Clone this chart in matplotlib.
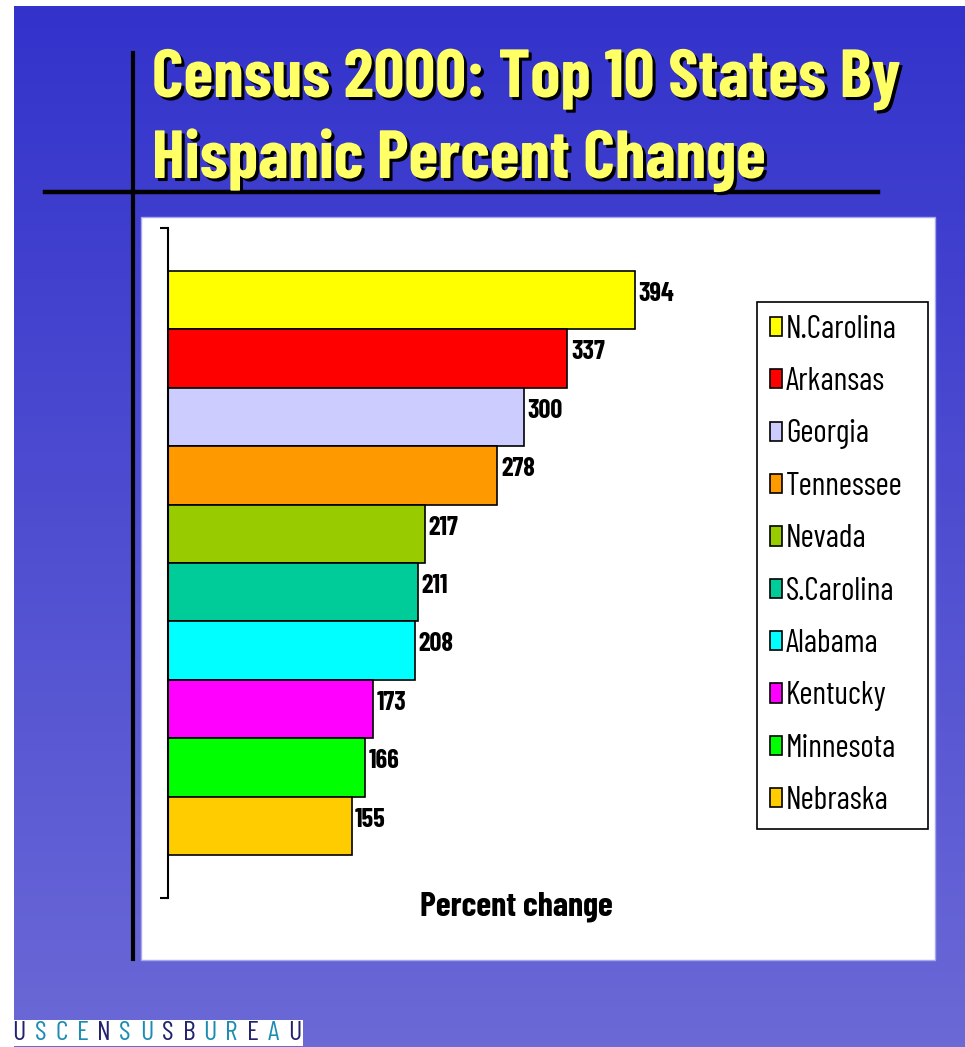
import matplotlib
matplotlib.use("Agg")
import numpy as np
import matplotlib.pyplot as plt
import matplotlib.patheffects as pe
from matplotlib.colors import LinearSegmentedColormap
from matplotlib.lines import Line2D
from matplotlib.patches import Rectangle

# Census 2000: Hispanic population growth, top 10 states
states = ["N.Carolina", "Arkansas", "Georgia", "Tennessee", "Nevada",
          "S.Carolina", "Alabama", "Kentucky", "Minnesota", "Nebraska"]
pct_change = [394, 337, 300, 278, 217, 211, 208, 173, 166, 155]
bar_colors = ["#FFFF00", "#FF0000", "#CCCCFF", "#FF9900", "#99CC00",
              "#00CC99", "#00FFFF", "#FF00FF", "#00FF00", "#FFCC00"]
title_lines = ["Census 2000: Top 10 States By", "Hispanic Percent Change"]
x_label = "Percent change"
logo_letters = ["U", "S", "C", "E", "N", "S", "U", "S", "B", "U", "R", "E", "A", "U"]
logo_colors = ["#22226E", "#1C8CB4", "#1C8CB4", "#1C8CB4", "#22226E", "#1C8CB4", "#1C8CB4",
               "#22226E", "#22226E", "#1C8CB4", "#1C8CB4", "#22226E", "#1C8CB4", "#22226E"]

plt.rcParams["font.family"] = ["Barlow Condensed", "DejaVu Sans"]

W, H = 965, 1047
fig = plt.figure(figsize=(W / 100, H / 100), dpi=100, facecolor="white")


def fx(px):
    return px / W


def fy(py):
    return 1 - py / H


# slide background: vertical blue gradient
bg = fig.add_axes([fx(14), 0, fx(W - 14), 1 - 6 / H], zorder=-10)
grad = LinearSegmentedColormap.from_list("slide", ["#3333CC", "#6B69D6"])
bg.imshow(np.linspace(0, 1, 256).reshape(-1, 1), cmap=grad, aspect="auto",
          extent=(0, 1, 0, 1))
bg.set_axis_off()

# white chart panel
fig.patches.append(Rectangle((fx(141), fy(960)), fx(935 - 141), (960 - 217) / H,
                             transform=fig.transFigure, facecolor="white",
                             edgecolor="#A8A8F0", linewidth=1, zorder=-5))

# black rule lines of the slide template
fig.lines.append(Line2D([fx(133), fx(133)], [fy(53), fy(959)], transform=fig.transFigure,
                        color="black", linewidth=3, zorder=-4))
fig.lines.append(Line2D([fx(45), fx(878)], [fy(192), fy(192)], transform=fig.transFigure,
                        color="black", linewidth=3.2, zorder=-4))

# title with drop shadow
shadow = [pe.withSimplePatchShadow(offset=(2.2, -2.2), shadow_rgbFace="black", alpha=1.0)]
for text, base in zip(title_lines, [97, 178]):
    fig.text(fx(152), fy(base), text, ha="left", va="baseline", fontsize=49,
             fontweight="bold", color="#FFFF66", path_effects=shadow)

# bar chart
ax = fig.add_axes([fx(168), fy(898), 592.6 / W, 670 / H])
ax.set_facecolor("none")
for i, (name, val, col) in enumerate(zip(states, pct_change, bar_colors)):
    ax.barh(i, val, height=1.0, color=col, edgecolor="black", linewidth=1.2, label=name)
    ax.annotate(f"{val}", (val, i), xytext=(2.5, 4.5), textcoords="offset points",
                ha="left", va="center", fontsize=19, fontweight="bold")

pad = 43 / 58.4
ylo, yhi = len(states) - 0.5 + pad, -0.5 - pad
ax.set_ylim(ylo, yhi)
ax.set_xlim(0, 500)
for side in ("top", "right", "bottom"):
    ax.spines[side].set_visible(False)
ax.spines["left"].set_linewidth(1.5)
ax.set_xticks([])
ax.set_yticks([ylo, yhi])
ax.set_yticklabels([])
ax.tick_params(axis="y", length=6, width=1.5, direction="out")

ax.set_xlabel(x_label, fontsize=24.5, fontweight="bold", va="center")
ax.xaxis.set_label_coords((516 - 168) / 592.6, (898 - 907) / 670)

leg = ax.legend(loc="upper left", bbox_to_anchor=(fx(757), fy(822), fx(928 - 757), (822 - 302) / H),
                bbox_transform=fig.transFigure, mode="expand", fancybox=False,
                edgecolor="black", framealpha=1, fontsize=23, handlelength=0.38,
                handleheight=0.55, handletextpad=0.12, labelspacing=0.70,
                borderpad=0.40, borderaxespad=0)
leg.get_frame().set_linewidth(1.2)

# bureau wordmark
fig.patches.append(Rectangle((fx(14), fy(1046)), fx(303 - 14), 26 / H,
                             transform=fig.transFigure, facecolor="white",
                             edgecolor="none", zorder=-3))
for xc, letter, col in zip(np.linspace(19, 295, len(logo_letters)), logo_letters, logo_colors):
    fig.text(fx(xc), fy(1033), letter, ha="center", va="center", fontsize=20,
             fontweight="normal", color=col)

fig.savefig("out.png", dpi=100, facecolor="white")
